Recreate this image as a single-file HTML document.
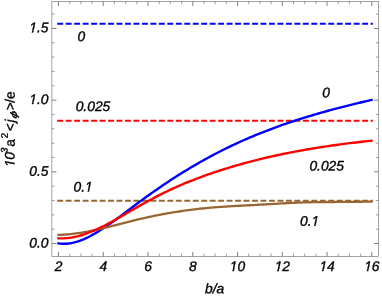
<!DOCTYPE html>
<html><head><meta charset="utf-8"><style>
html,body{margin:0;padding:0;background:#fff;}
svg{display:block;will-change:transform;}
text{font-family:"Liberation Sans",sans-serif;font-style:italic;fill:#000;stroke:#000;stroke-width:0.35px;stroke-linejoin:round;}
</style></head><body>
<svg width="382" height="300" viewBox="0 0 382 300">
<rect width="382" height="300" fill="#fff"/>
<rect x="51.9" y="1.47" width="326.6" height="254.92999999999998" fill="none" stroke="#6a6a6a" stroke-width="0.62"/>
<path d="M58.50,256.4v-4.5M58.50,1.47v4.5M103.26,256.4v-4.5M103.26,1.47v4.5M148.02,256.4v-4.5M148.02,1.47v4.5M192.78,256.4v-4.5M192.78,1.47v4.5M237.54,256.4v-4.5M237.54,1.47v4.5M282.30,256.4v-4.5M282.30,1.47v4.5M327.06,256.4v-4.5M327.06,1.47v4.5M371.82,256.4v-4.5M371.82,1.47v4.5M51.9,243.53h4.5M378.5,243.53h-4.5M51.9,171.84h4.5M378.5,171.84h-4.5M51.9,100.14h4.5M378.5,100.14h-4.5M51.9,28.45h4.5M378.5,28.45h-4.5" stroke="#6a6a6a" stroke-width="0.85" fill="none"/>
<path d="M69.69,256.4v-2.7M69.69,1.47v2.7M80.88,256.4v-2.7M80.88,1.47v2.7M92.07,256.4v-2.7M92.07,1.47v2.7M114.45,256.4v-2.7M114.45,1.47v2.7M125.64,256.4v-2.7M125.64,1.47v2.7M136.83,256.4v-2.7M136.83,1.47v2.7M159.21,256.4v-2.7M159.21,1.47v2.7M170.40,256.4v-2.7M170.40,1.47v2.7M181.59,256.4v-2.7M181.59,1.47v2.7M203.97,256.4v-2.7M203.97,1.47v2.7M215.16,256.4v-2.7M215.16,1.47v2.7M226.35,256.4v-2.7M226.35,1.47v2.7M248.73,256.4v-2.7M248.73,1.47v2.7M259.92,256.4v-2.7M259.92,1.47v2.7M271.11,256.4v-2.7M271.11,1.47v2.7M293.49,256.4v-2.7M293.49,1.47v2.7M304.68,256.4v-2.7M304.68,1.47v2.7M315.87,256.4v-2.7M315.87,1.47v2.7M338.25,256.4v-2.7M338.25,1.47v2.7M349.44,256.4v-2.7M349.44,1.47v2.7M360.63,256.4v-2.7M360.63,1.47v2.7M51.9,229.19h2.7M378.5,229.19h-2.7M51.9,214.85h2.7M378.5,214.85h-2.7M51.9,200.51h2.7M378.5,200.51h-2.7M51.9,186.17h2.7M378.5,186.17h-2.7M51.9,157.50h2.7M378.5,157.50h-2.7M51.9,143.16h2.7M378.5,143.16h-2.7M51.9,128.82h2.7M378.5,128.82h-2.7M51.9,114.48h2.7M378.5,114.48h-2.7M51.9,85.80h2.7M378.5,85.80h-2.7M51.9,71.46h2.7M378.5,71.46h-2.7M51.9,57.12h2.7M378.5,57.12h-2.7M51.9,42.78h2.7M378.5,42.78h-2.7M51.9,14.11h2.7M378.5,14.11h-2.7" stroke="#6a6a6a" stroke-width="0.65" fill="none"/>
<path d="M57.26,23.8H372.8" stroke="#0000ff" stroke-width="2.1" stroke-dasharray="5.9 2.57" fill="none"/>
<path d="M57.26,120.7H372.8" stroke="#ff0000" stroke-width="2.1" stroke-dasharray="5.9 2.57" fill="none"/>
<path d="M57.26,200.7H372.8" stroke="#996633" stroke-width="1.9" stroke-dasharray="5.9 2.57" fill="none"/>
<path d="M58.50,243.38 L60.47,243.62 L62.44,243.76 L64.41,243.78 L66.38,243.71 L68.34,243.53 L70.31,243.26 L72.28,242.90 L74.25,242.46 L76.22,241.93 L78.19,241.32 L80.16,240.64 L82.13,239.88 L84.10,239.06 L86.06,238.17 L88.03,237.23 L90.00,236.23 L91.97,235.17 L93.94,234.07 L95.91,232.93 L97.88,231.75 L99.85,230.53 L101.82,229.27 L103.78,227.99 L105.75,226.67 L107.72,225.33 L109.69,223.97 L111.66,222.58 L113.63,221.17 L115.60,219.75 L117.57,218.31 L119.53,216.85 L121.50,215.39 L123.47,213.92 L125.44,212.44 L127.41,210.95 L129.38,209.47 L131.35,207.98 L133.32,206.50 L135.29,205.02 L137.25,203.54 L139.22,202.08 L141.19,200.63 L143.16,199.19 L145.13,197.75 L147.10,196.33 L149.07,194.92 L151.04,193.52 L153.01,192.13 L154.97,190.76 L156.94,189.39 L158.91,188.03 L160.88,186.69 L162.85,185.35 L164.82,184.03 L166.79,182.71 L168.76,181.41 L170.73,180.12 L172.69,178.84 L174.66,177.57 L176.63,176.31 L178.60,175.06 L180.57,173.83 L182.54,172.60 L184.51,171.39 L186.48,170.19 L188.45,168.99 L190.41,167.81 L192.38,166.65 L194.35,165.49 L196.32,164.34 L198.29,163.21 L200.26,162.08 L202.23,160.97 L204.20,159.87 L206.17,158.78 L208.13,157.70 L210.10,156.64 L212.07,155.58 L214.04,154.54 L216.01,153.51 L217.98,152.49 L219.95,151.48 L221.92,150.49 L223.88,149.50 L225.85,148.53 L227.82,147.57 L229.79,146.62 L231.76,145.68 L233.73,144.75 L235.70,143.83 L237.67,142.92 L239.64,142.03 L241.60,141.14 L243.57,140.27 L245.54,139.40 L247.51,138.54 L249.48,137.70 L251.45,136.86 L253.42,136.04 L255.39,135.22 L257.36,134.42 L259.32,133.62 L261.29,132.83 L263.26,132.05 L265.23,131.28 L267.20,130.52 L269.17,129.77 L271.14,129.03 L273.11,128.29 L275.08,127.57 L277.04,126.85 L279.01,126.14 L280.98,125.44 L282.95,124.74 L284.92,124.06 L286.89,123.38 L288.86,122.71 L290.83,122.05 L292.80,121.39 L294.76,120.75 L296.73,120.11 L298.70,119.47 L300.67,118.85 L302.64,118.23 L304.61,117.61 L306.58,117.01 L308.55,116.41 L310.52,115.81 L312.48,115.23 L314.45,114.65 L316.42,114.07 L318.39,113.50 L320.36,112.94 L322.33,112.38 L324.30,111.83 L326.27,111.28 L328.23,110.74 L330.20,110.20 L332.17,109.67 L334.14,109.15 L336.11,108.63 L338.08,108.11 L340.05,107.60 L342.02,107.09 L343.99,106.59 L345.95,106.09 L347.92,105.60 L349.89,105.10 L351.86,104.62 L353.83,104.14 L355.80,103.66 L357.77,103.18 L359.74,102.71 L361.71,102.24 L363.67,101.78 L365.64,101.31 L367.61,100.85 L369.58,100.40 L371.55,99.94" stroke="#0000ff" stroke-width="2.4" fill="none" stroke-linejoin="round" stroke-linecap="square"/>
<path d="M58.50,234.91 L60.47,234.86 L62.44,234.77 L64.41,234.66 L66.38,234.52 L68.34,234.36 L70.31,234.17 L72.28,233.96 L74.25,233.72 L76.22,233.46 L78.19,233.19 L80.16,232.89 L82.13,232.57 L84.10,232.23 L86.06,231.88 L88.03,231.51 L90.00,231.12 L91.97,230.72 L93.94,230.31 L95.91,229.88 L97.88,229.44 L99.85,229.00 L101.82,228.54 L103.78,228.07 L105.75,227.59 L107.72,227.11 L109.69,226.62 L111.66,226.13 L113.63,225.63 L115.60,225.13 L117.57,224.62 L119.53,224.12 L121.50,223.61 L123.47,223.11 L125.44,222.60 L127.41,222.10 L129.38,221.60 L131.35,221.10 L133.32,220.61 L135.29,220.13 L137.25,219.65 L139.22,219.18 L141.19,218.72 L143.16,218.27 L145.13,217.83 L147.10,217.39 L149.07,216.96 L151.04,216.55 L153.01,216.14 L154.97,215.73 L156.94,215.34 L158.91,214.95 L160.88,214.57 L162.85,214.21 L164.82,213.84 L166.79,213.49 L168.76,213.14 L170.73,212.81 L172.69,212.48 L174.66,212.16 L176.63,211.84 L178.60,211.54 L180.57,211.24 L182.54,210.95 L184.51,210.67 L186.48,210.40 L188.45,210.13 L190.41,209.87 L192.38,209.62 L194.35,209.38 L196.32,209.14 L198.29,208.92 L200.26,208.70 L202.23,208.49 L204.20,208.28 L206.17,208.09 L208.13,207.90 L210.10,207.72 L212.07,207.54 L214.04,207.38 L216.01,207.22 L217.98,207.07 L219.95,206.92 L221.92,206.79 L223.88,206.65 L225.85,206.53 L227.82,206.41 L229.79,206.29 L231.76,206.18 L233.73,206.07 L235.70,205.97 L237.67,205.86 L239.64,205.76 L241.60,205.66 L243.57,205.56 L245.54,205.46 L247.51,205.35 L249.48,205.25 L251.45,205.15 L253.42,205.04 L255.39,204.94 L257.36,204.83 L259.32,204.72 L261.29,204.61 L263.26,204.49 L265.23,204.38 L267.20,204.26 L269.17,204.14 L271.14,204.03 L273.11,203.91 L275.08,203.79 L277.04,203.68 L279.01,203.56 L280.98,203.45 L282.95,203.34 L284.92,203.23 L286.89,203.13 L288.86,203.03 L290.83,202.93 L292.80,202.84 L294.76,202.76 L296.73,202.67 L298.70,202.60 L300.67,202.53 L302.64,202.46 L304.61,202.40 L306.58,202.35 L308.55,202.30 L310.52,202.26 L312.48,202.22 L314.45,202.18 L316.42,202.15 L318.39,202.12 L320.36,202.10 L322.33,202.07 L324.30,202.05 L326.27,202.03 L328.23,202.02 L330.20,202.00 L332.17,201.99 L334.14,201.98 L336.11,201.96 L338.08,201.95 L340.05,201.94 L342.02,201.93 L343.99,201.92 L345.95,201.91 L347.92,201.89 L349.89,201.88 L351.86,201.86 L353.83,201.84 L355.80,201.82 L357.77,201.80 L359.74,201.77 L361.71,201.74 L363.67,201.71 L365.64,201.68 L367.61,201.64 L369.58,201.59 L371.55,201.54" stroke="#996633" stroke-width="2.3" fill="none" stroke-linejoin="round" stroke-linecap="square"/>
<path d="M58.50,238.33 L60.47,238.39 L62.44,238.38 L64.41,238.30 L66.38,238.17 L68.34,237.96 L70.31,237.70 L72.28,237.38 L74.25,237.01 L76.22,236.58 L78.19,236.10 L80.16,235.56 L82.13,234.98 L84.10,234.36 L86.06,233.68 L88.03,232.97 L90.00,232.22 L91.97,231.42 L93.94,230.59 L95.91,229.73 L97.88,228.83 L99.85,227.91 L101.82,226.95 L103.78,225.97 L105.75,224.96 L107.72,223.93 L109.69,222.89 L111.66,221.82 L113.63,220.73 L115.60,219.63 L117.57,218.52 L119.53,217.40 L121.50,216.26 L123.47,215.13 L125.44,213.98 L127.41,212.83 L129.38,211.69 L131.35,210.54 L133.32,209.40 L135.29,208.26 L137.25,207.13 L139.22,206.01 L141.19,204.89 L143.16,203.79 L145.13,202.70 L147.10,201.62 L149.07,200.55 L151.04,199.49 L153.01,198.45 L154.97,197.42 L156.94,196.39 L158.91,195.38 L160.88,194.39 L162.85,193.40 L164.82,192.43 L166.79,191.47 L168.76,190.53 L170.73,189.60 L172.69,188.68 L174.66,187.77 L176.63,186.89 L178.60,186.01 L180.57,185.15 L182.54,184.30 L184.51,183.47 L186.48,182.65 L188.45,181.85 L190.41,181.05 L192.38,180.27 L194.35,179.51 L196.32,178.75 L198.29,178.01 L200.26,177.28 L202.23,176.55 L204.20,175.84 L206.17,175.14 L208.13,174.45 L210.10,173.77 L212.07,173.10 L214.04,172.44 L216.01,171.79 L217.98,171.14 L219.95,170.51 L221.92,169.88 L223.88,169.26 L225.85,168.65 L227.82,168.04 L229.79,167.44 L231.76,166.86 L233.73,166.27 L235.70,165.70 L237.67,165.13 L239.64,164.57 L241.60,164.02 L243.57,163.48 L245.54,162.94 L247.51,162.41 L249.48,161.89 L251.45,161.37 L253.42,160.86 L255.39,160.36 L257.36,159.87 L259.32,159.38 L261.29,158.90 L263.26,158.42 L265.23,157.95 L267.20,157.49 L269.17,157.04 L271.14,156.59 L273.11,156.15 L275.08,155.71 L277.04,155.28 L279.01,154.86 L280.98,154.44 L282.95,154.03 L284.92,153.62 L286.89,153.22 L288.86,152.83 L290.83,152.44 L292.80,152.06 L294.76,151.68 L296.73,151.31 L298.70,150.95 L300.67,150.59 L302.64,150.23 L304.61,149.88 L306.58,149.54 L308.55,149.20 L310.52,148.86 L312.48,148.54 L314.45,148.21 L316.42,147.89 L318.39,147.58 L320.36,147.27 L322.33,146.97 L324.30,146.67 L326.27,146.37 L328.23,146.08 L330.20,145.79 L332.17,145.51 L334.14,145.24 L336.11,144.96 L338.08,144.69 L340.05,144.43 L342.02,144.17 L343.99,143.91 L345.95,143.66 L347.92,143.41 L349.89,143.17 L351.86,142.93 L353.83,142.69 L355.80,142.46 L357.77,142.23 L359.74,142.00 L361.71,141.78 L363.67,141.56 L365.64,141.34 L367.61,141.13 L369.58,140.92 L371.55,140.71" stroke="#ff0000" stroke-width="2.4" fill="none" stroke-linejoin="round" stroke-linecap="square"/>
<text transform="translate(48.40,247.43) rotate(0.1)" text-anchor="end" font-size="13.8" >0.0</text>
<text transform="translate(48.40,175.74) rotate(0.1)" text-anchor="end" font-size="13.8" >0.5</text>
<text transform="translate(48.40,104.04) rotate(0.1)" text-anchor="end" font-size="13.8" >1.0</text>
<text transform="translate(48.40,32.35) rotate(0.1)" text-anchor="end" font-size="13.8" >1.5</text>
<text transform="translate(58.50,271.00) rotate(0.1)" text-anchor="middle" font-size="13.8" >2</text>
<text transform="translate(103.26,271.00) rotate(0.1)" text-anchor="middle" font-size="13.8" >4</text>
<text transform="translate(148.02,271.00) rotate(0.1)" text-anchor="middle" font-size="13.8" >6</text>
<text transform="translate(192.78,271.00) rotate(0.1)" text-anchor="middle" font-size="13.8" >8</text>
<text transform="translate(237.54,271.00) rotate(0.1)" text-anchor="middle" font-size="13.8" >10</text>
<text transform="translate(282.30,271.00) rotate(0.1)" text-anchor="middle" font-size="13.8" >12</text>
<text transform="translate(327.06,271.00) rotate(0.1)" text-anchor="middle" font-size="13.8" >14</text>
<text transform="translate(371.82,271.00) rotate(0.1)" text-anchor="middle" font-size="13.8" >16</text>
<text transform="translate(77.60,40.90) rotate(0.1)" text-anchor="start" font-size="13.8" >0</text>
<text transform="translate(75.70,110.90) rotate(0.1)" text-anchor="start" font-size="13.8" >0.025</text>
<text transform="translate(73.50,191.40) rotate(0.1)" text-anchor="start" font-size="13.8" >0.1</text>
<text transform="translate(322.30,97.20) rotate(0.1)" text-anchor="start" font-size="13.8" >0</text>
<text transform="translate(309.40,170.40) rotate(0.1)" text-anchor="start" font-size="13.8" >0.025</text>
<text transform="translate(300.00,225.80) rotate(0.1)" text-anchor="start" font-size="13.8" >0.1</text>
<text transform="translate(214.60,293.20) rotate(0.1)" text-anchor="middle" font-size="13.8" >b/a</text>
<g transform="translate(14.6,166.4) rotate(-89.9)"><text x="-0.5" y="0" font-size="13.8">1</text><text x="6.6" y="0" font-size="13.8">0</text><text x="13.5" y="-7.0" font-size="9.5">3</text><text x="19.7" y="0" font-size="13.8" style="font-style:normal">a</text><text x="28.1" y="-7.0" font-size="9.5" style="font-style:normal">2</text><text x="34.8" y="0" font-size="13.8">&lt;</text><text x="44.0" y="0" font-size="13.8">j</text><text transform="translate(47.5,2.2) skewX(-14) scale(1.4,1)" font-size="9.5">&#981;</text><text x="55.9" y="0" font-size="13.8">&gt;</text><text x="63.6" y="0" font-size="13.8" style="font-style:normal">/</text><text x="67.3" y="0" font-size="13.8" style="font-style:normal">e</text></g>
<g transform="translate(29.22,104.04)" fill="#fff"><polygon points="-0.81,1.55 2.18,1.55 2.94,-2.02 -0.81,-2.02"/><polygon points="3.90,1.55 7.04,1.55 7.04,-2.02 4.66,-2.02"/></g>
<g transform="translate(29.22,32.35)" fill="#fff"><polygon points="-0.81,1.55 2.18,1.55 2.94,-2.02 -0.81,-2.02"/><polygon points="3.90,1.55 7.04,1.55 7.04,-2.02 4.66,-2.02"/></g>
<g transform="translate(85.01,191.40)" fill="#fff"><polygon points="-0.81,1.55 2.18,1.55 2.94,-2.02 -0.81,-2.02"/><polygon points="3.90,1.55 7.04,1.55 7.04,-2.02 4.66,-2.02"/></g>
<g transform="translate(311.51,225.80)" fill="#fff"><polygon points="-0.81,1.55 2.18,1.55 2.94,-2.02 -0.81,-2.02"/><polygon points="3.90,1.55 7.04,1.55 7.04,-2.02 4.66,-2.02"/></g>
<g transform="translate(229.87,271.00)" fill="#fff"><polygon points="-0.81,1.55 2.18,1.55 2.94,-2.02 -0.81,-2.02"/><polygon points="3.90,1.55 7.04,1.55 7.04,-2.02 4.66,-2.02"/></g>
<g transform="translate(274.63,271.00)" fill="#fff"><polygon points="-0.81,1.55 2.18,1.55 2.94,-2.02 -0.81,-2.02"/><polygon points="3.90,1.55 7.04,1.55 7.04,-2.02 4.66,-2.02"/></g>
<g transform="translate(319.39,271.00)" fill="#fff"><polygon points="-0.81,1.55 2.18,1.55 2.94,-2.02 -0.81,-2.02"/><polygon points="3.90,1.55 7.04,1.55 7.04,-2.02 4.66,-2.02"/></g>
<g transform="translate(364.15,271.00)" fill="#fff"><polygon points="-0.81,1.55 2.18,1.55 2.94,-2.02 -0.81,-2.02"/><polygon points="3.90,1.55 7.04,1.55 7.04,-2.02 4.66,-2.02"/></g>
<g transform="translate(14.6,166.4) rotate(-89.9)"><g transform="translate(-0.50,0.00)" fill="#fff"><polygon points="-0.81,1.55 2.18,1.55 2.94,-2.02 -0.81,-2.02"/><polygon points="3.90,1.55 7.04,1.55 7.04,-2.02 4.66,-2.02"/></g></g>
</svg>
</body></html>
